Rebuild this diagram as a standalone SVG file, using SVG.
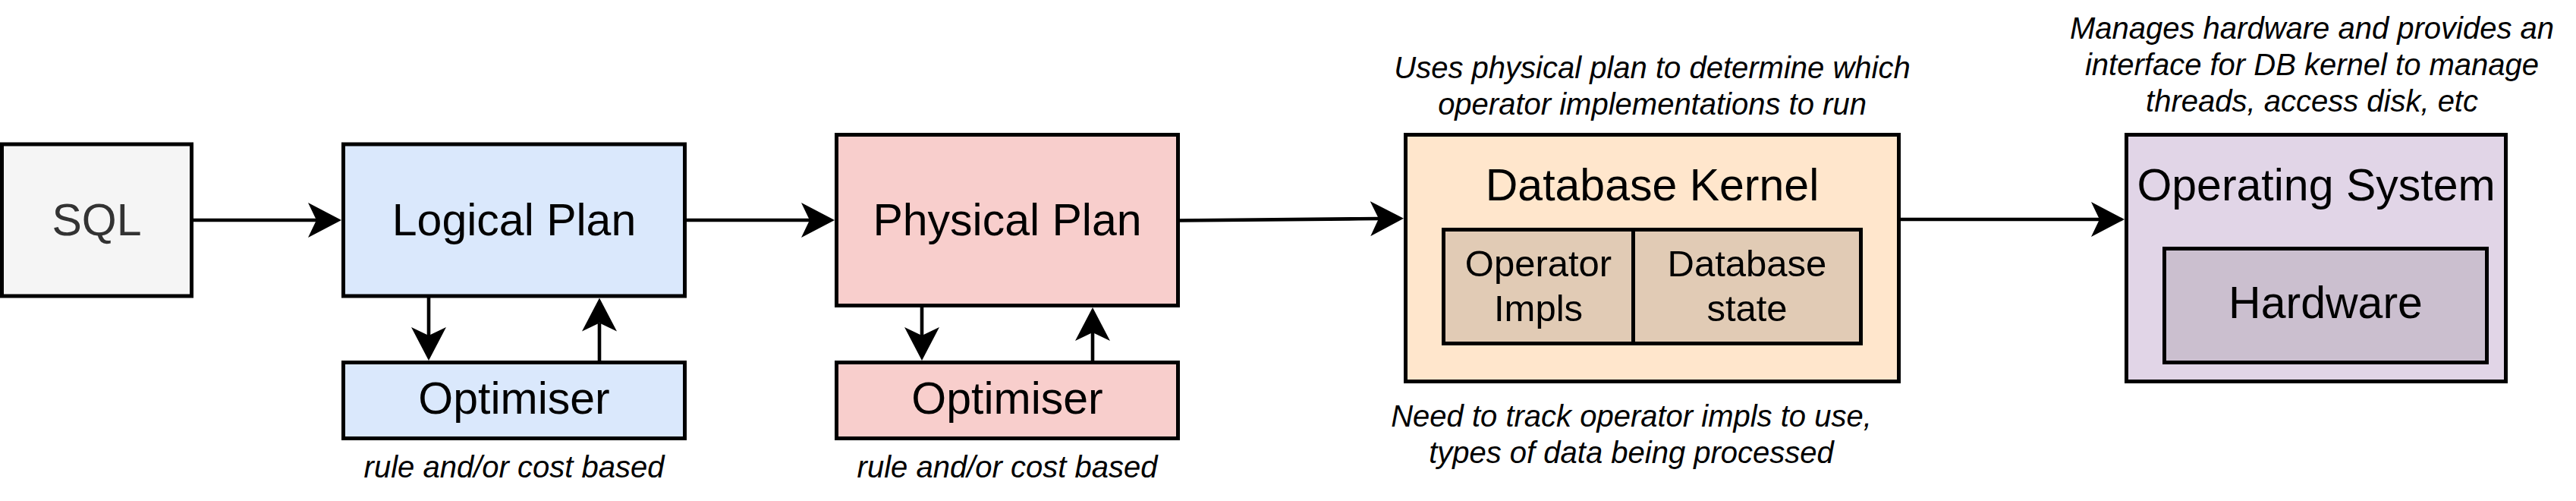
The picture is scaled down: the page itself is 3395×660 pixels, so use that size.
<svg xmlns="http://www.w3.org/2000/svg" width="3395" height="660" viewBox="0 0 3395 660">
<style>
.box{stroke:#000;stroke-width:5}
.lbl{font-family:"Liberation Sans",Arial,sans-serif;font-size:59px;fill:#000;text-anchor:middle}
.sub{font-family:"Liberation Sans",Arial,sans-serif;font-size:49px;fill:#000;text-anchor:middle}
.note{font-family:"Liberation Sans",Arial,sans-serif;font-size:40px;font-style:italic;fill:#000;text-anchor:middle}
.conn{fill:none;stroke:#000;stroke-width:4.6}
</style>
<defs>
<marker id="arr" markerUnits="userSpaceOnUse" viewBox="0 0 44 46" refX="11" refY="23" markerWidth="44" markerHeight="46" orient="auto">
<path d="M0,0 L44,23 L0,46 L11,23 Z" fill="#000"/>
</marker>
</defs>
<rect width="3395" height="660" fill="#fff"/>
<g id="sql">
<rect class="box" x="2.5" y="190" width="250" height="200" fill="#f5f5f5"/>
<text class="lbl" x="127.5" y="310" style="fill:#333333">SQL</text>
</g>
<g id="logical-plan">
<rect class="box" x="452.5" y="190" width="450" height="200" fill="#dae8fc"/>
<text class="lbl" x="677.5" y="310">Logical Plan</text>
</g>
<g id="logical-optimiser">
<rect class="box" x="452.5" y="477.5" width="450" height="100" fill="#dae8fc"/>
<text class="lbl" x="677.5" y="545">Optimiser</text>
<text class="note" x="677.5" y="629">rule and/or cost based</text>
</g>
<g id="physical-plan">
<rect class="box" x="1102.5" y="177.5" width="450" height="225" fill="#f8cecc"/>
<text class="lbl" x="1327.5" y="310">Physical Plan</text>
</g>
<g id="physical-optimiser">
<rect class="box" x="1102.5" y="477.5" width="450" height="100" fill="#f8cecc"/>
<text class="lbl" x="1327.5" y="545">Optimiser</text>
<text class="note" x="1327.5" y="629">rule and/or cost based</text>
</g>
<g id="database-kernel">
<text class="note" x="2177.5" y="103">Uses physical plan to determine which</text>
<text class="note" x="2177.5" y="151">operator implementations to run</text>
<rect class="box" x="1852.5" y="177.5" width="650" height="325" fill="#ffe6cc"/>
<text class="lbl" x="2177.5" y="264">Database Kernel</text>
<rect class="box" x="1902.5" y="302.5" width="250" height="150" fill="#e1cbb5"/>
<text class="sub" x="2027.5" y="364">Operator</text>
<text class="sub" x="2027.5" y="423">Impls</text>
<rect class="box" x="2152.5" y="302.5" width="300" height="150" fill="#e1cbb5"/>
<text class="sub" x="2302.5" y="364">Database</text>
<text class="sub" x="2302.5" y="423">state</text>
<text class="note" x="2150" y="562">Need to track operator impls to use,</text>
<text class="note" x="2150" y="610">types of data being processed</text>
</g>
<g id="operating-system">
<text class="note" x="3047" y="51">Manages hardware and provides an</text>
<text class="note" x="3047" y="99">interface for DB kernel to manage</text>
<text class="note" x="3047" y="147">threads, access disk, etc</text>
<rect class="box" x="2802.5" y="177.5" width="500" height="325" fill="#e1d5e7"/>
<text class="lbl" x="3052.5" y="264">Operating System</text>
<rect class="box" x="2852.5" y="327.5" width="425" height="150" fill="#cbbfcf"/>
<text class="lbl" x="3065" y="419">Hardware</text>
</g>
<g id="connectors">
<path class="conn" d="M252.5,290 L417,290" marker-end="url(#arr)"/>
<path class="conn" d="M902.5,290 L1067,290" marker-end="url(#arr)"/>
<path class="conn" d="M1552.5,290.5 L1790,288.3 L1817,288" marker-end="url(#arr)"/>
<path class="conn" d="M2502.5,289 L2767,289" marker-end="url(#arr)"/>
<path class="conn" d="M565,390 L565,442" marker-end="url(#arr)"/>
<path class="conn" d="M790,477.5 L790,425.5" marker-end="url(#arr)"/>
<path class="conn" d="M1215,402.5 L1215,442" marker-end="url(#arr)"/>
<path class="conn" d="M1440,477.5 L1440,438" marker-end="url(#arr)"/>
</g>
</svg>
